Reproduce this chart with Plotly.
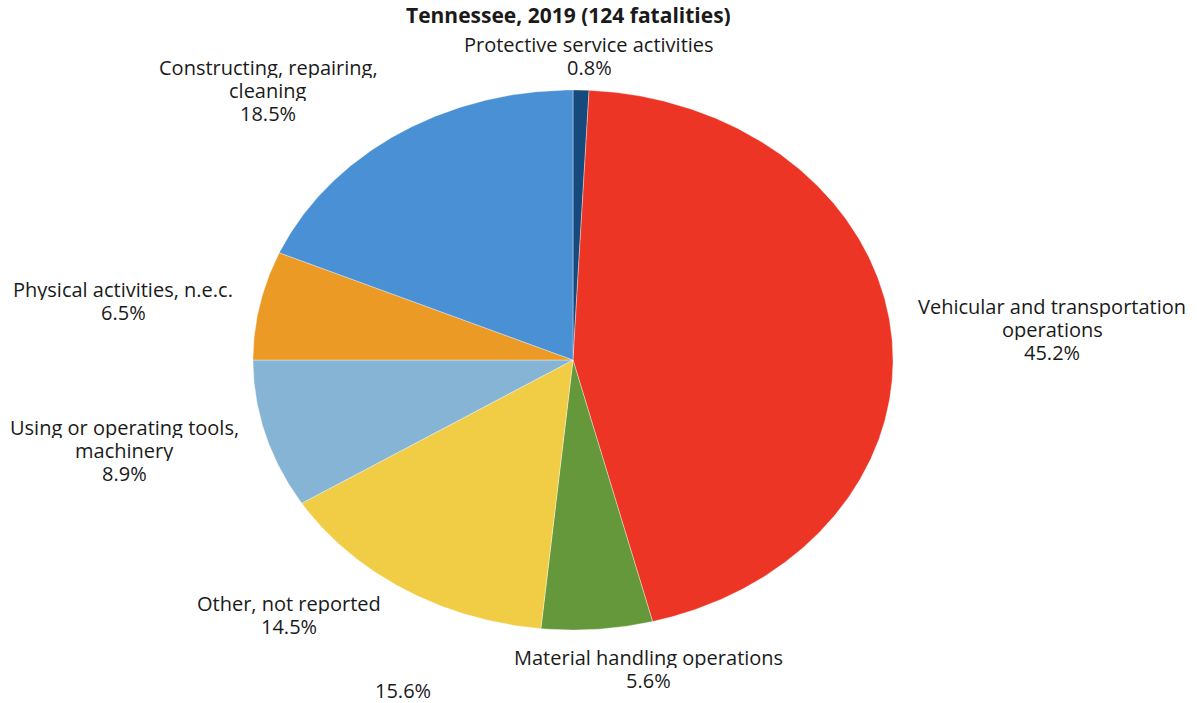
import numpy as np
import plotly.graph_objects as go

categories = [
    "Protective service activities",
    "Vehicular and transportation<br>operations",
    "Material handling operations",
    "Other, not reported",
    "Using or operating tools,<br>machinery",
    "Physical activities, n.e.c.",
    "Constructing, repairing,<br>cleaning",
]
values = [0.8, 45.2, 5.6, 14.5, 8.9, 6.5, 18.5]
colors = ["#174a7c", "#ec3525", "#64983a", "#f1cd46", "#86b4d4", "#ec9a26", "#4a90d4"]
title_text = "Tennessee, 2019 (124 fatalities)"
stray_label = "15.6%"

W, H = 1197, 703
cx, cy = 573, 360      # pie center, pixels
rx, ry = 320, 270      # horizontal/vertical radius, pixels

# label centre positions in pixels (x, first line y)
label_pos = [(589, 44), (1052, 306), (648, 657), (289, 603), (124, 427), (123, 289), (268, 67)]
line_gap = 23

fig = go.Figure()
total = sum(values)
cum = 0.0
for name, v, c in zip(categories, values, colors):
    a0 = cum / total * 2 * np.pi
    a1 = (cum + v) / total * 2 * np.pi
    cum += v
    t = np.linspace(a0, a1, max(3, int(v * 8)))
    xs = np.concatenate([[0], np.sin(t), [0]])
    ys = np.concatenate([[0], np.cos(t), [0]])
    fig.add_trace(go.Scatter(x=xs, y=ys, mode="lines", fill="toself",
                             fillcolor=c, line=dict(color="rgba(255,255,255,0.6)", width=0.6),
                             hoverinfo="text", text=f"{name.replace('<br>', ' ')}: {v}%",
                             showlegend=False))

annotations = []
def add_line(text, px, py, size=20):
    annotations.append(dict(
        x=px / W, y=1 - py / H, xref="paper", yref="paper", text=text,
        showarrow=False, xanchor="center", yanchor="middle", height=22,
        font=dict(family="Open Sans", size=size, color="#1a1a1a"),
    ))

for name, v, (px, py) in zip(categories, values, label_pos):
    lines = name.split("<br>") + [f"{v:.1f}%"]
    for k, ln in enumerate(lines):
        add_line(ln, px, py + k * line_gap)

add_line(stray_label, 403, 690)
add_line("<b>" + title_text + "</b>", 568, 15, size=21)

fig.update_layout(
    width=W, height=H,
    margin=dict(l=0, r=0, t=0, b=0),
    paper_bgcolor="white", plot_bgcolor="white",
    xaxis=dict(range=[-cx / rx, (W - cx) / rx], visible=False, fixedrange=True),
    yaxis=dict(range=[-(H - cy) / ry, cy / ry], visible=False, fixedrange=True),
    annotations=annotations,
    showlegend=False,
)
fig.write_html("out.html", config={"displayModeBar": False})

# remove the browser's default page margin so the figure fills the window
with open("out.html", encoding="utf-8") as f:
    html = f.read()
html = html.replace("<head>", "<head><style>html,body{margin:0;padding:0;overflow:hidden;}</style>", 1)
with open("out.html", "w", encoding="utf-8") as f:
    f.write(html)
